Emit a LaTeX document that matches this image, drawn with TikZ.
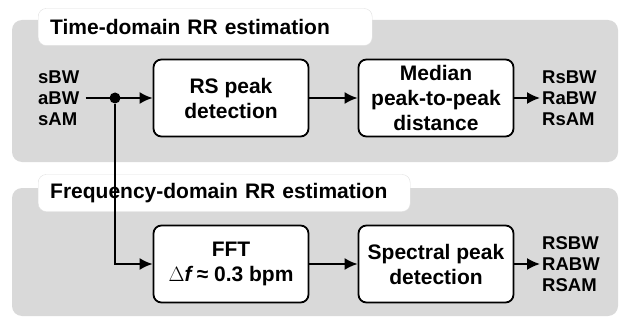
\documentclass[tikz,border=0pt]{standalone}
\usepackage{fontspec}
\setmainfont{Liberation Sans}
\usepackage{tikz}
\usetikzlibrary{arrows.meta}
\definecolor{panelgray}{RGB}{217,217,217}
\tikzset{
  panel/.style={fill=panelgray,rounded corners=10pt},
  titlebox/.style={fill=white,draw=black!12,rounded corners=8pt,anchor=west,align=left,minimum height=37pt,inner xsep=12pt,font=\fontsize{21}{24}\bfseries},
  block/.style={draw,fill=white,line width=1.8pt,rounded corners=8pt,align=center,minimum width=155pt,minimum height=77pt,inner sep=2pt,font=\fontsize{21}{25}\bfseries},
  sig/.style={anchor=west,align=left,inner sep=2pt,font=\fontsize{18.5}{21}\bfseries},
  arr/.style={-{Latex[length=13pt,width=12pt]},line width=1.8pt}
}
\begin{document}
\begin{tikzpicture}[x=1pt,y=-1pt]
\useasboundingbox (0,0) rectangle (619,321);
\fill[panel] (12,20) rectangle (618,162);
\fill[panel] (12,188) rectangle (618,316);
\node[titlebox,text width=310pt] (ttime) at (38,27) {Time-domain RR estimation};
\node[titlebox,text width=348pt] (tfreq) at (38,193) {Frequency-domain RR estimation};
\node[sig] (inp) at (36,98) {sBW\\aBW\\sAM};
\node[block] (rs) at (231,98) {RS peak\\detection};
\node[block] (med) at (436,98) {Median\\peak-to-peak\\distance};
\node[sig] (outt) at (540,98) {RsBW\\RaBW\\RsAM};
\node[block] (fft) at (231,264) {FFT\\$\Delta$\textit{f}\,≈ 0.3 bpm};
\node[block] (spec) at (436,264) {Spectral peak\\detection};
\node[sig] (outf) at (540,264) {RSBW\\RABW\\RSAM};
\node[circle,fill,minimum size=11pt,inner sep=0pt] (split) at (115,98) {};
\draw[arr,shorten <=4pt] (inp) -- (rs);
\draw[arr] (rs) -- (med);
\draw[arr] (med) -- (outt);
\draw[arr] (split) |- (fft);
\draw[arr] (fft) -- (spec);
\draw[arr] (spec) -- (outf);
\end{tikzpicture}
\end{document}
